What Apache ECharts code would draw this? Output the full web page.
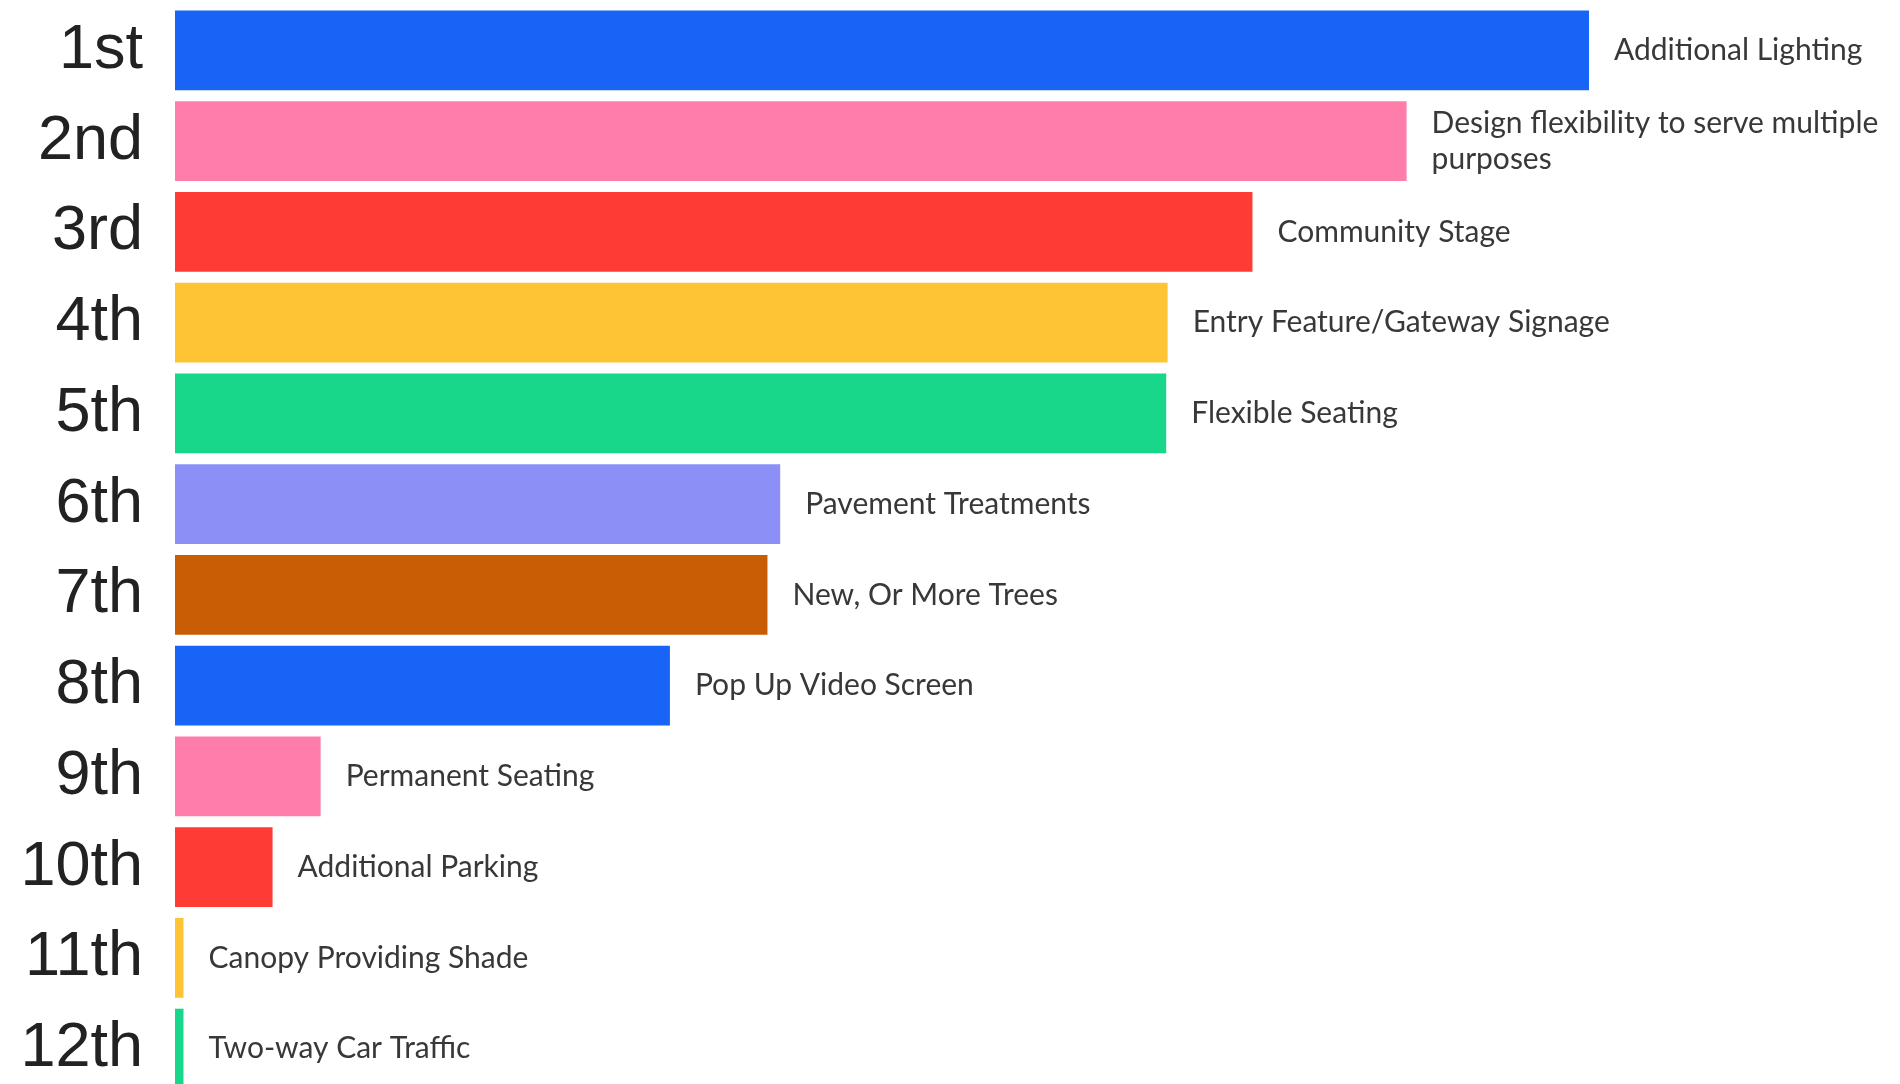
<!DOCTYPE html>
<html>
<head>
<meta charset="utf-8">
<script src="https://cdn.jsdelivr.net/npm/echarts@6/dist/echarts.min.js"></script>
<style>
html,body{margin:0;padding:0;background:#fff;overflow:hidden;}
#chart{width:1900px;height:1094px;}
</style>
</head>
<body>
<div id="chart"></div>
<script>
const ranks = ['1st','2nd','3rd','4th','5th','6th','7th','8th','9th','10th','11th','12th'];
const items = ['Additional Lighting','Design flexibility to serve multiple\npurposes','Community Stage','Entry Feature/Gateway Signage','Flexible Seating','Pavement Treatments','New, Or More Trees','Pop Up Video Screen','Permanent Seating','Additional Parking','Canopy Providing Shade','Two-way Car Traffic'];
const scores = [100, 87.1, 76.2, 70.2, 70.1, 42.8, 41.9, 35.0, 10.3, 6.9, 0.6, 0.6];
const colors = ['#1764F6','#FF7DAA','#FF3B36','#FFC336','#18D68A','#8B8FF6','#C95D06','#1764F6','#FF7DAA','#FF3B36','#FFC336','#18D68A'];

const chart = echarts.init(document.getElementById('chart'));
chart.setOption({
  animation: false,
  backgroundColor: '#ffffff',
  grid: {left: 175, right: 311, top: 5, bottom: 0, containLabel: false},
  xAxis: {type: 'value', min: 0, max: 100, show: false},
  yAxis: {
    type: 'category', data: ranks, inverse: true,
    axisLine: {show: false}, axisTick: {show: false}, splitLine: {show: false},
    axisLabel: {fontSize: 63, color: '#222222', margin: 32, fontFamily: 'Liberation Sans, Arial, sans-serif'}
  },
  series: [{
    type: 'bar',
    barCategoryGap: '12%',
    data: scores.map((v, i) => ({value: v, itemStyle: {color: colors[i]}})),
    label: {
      show: true, position: 'right', distance: 25,
      formatter: p => items[p.dataIndex],
      fontSize: 30, color: '#383838', lineHeight: 36,
      fontFamily: 'Lato, sans-serif'
    }
  }]
});
</script>
</body>
</html>
